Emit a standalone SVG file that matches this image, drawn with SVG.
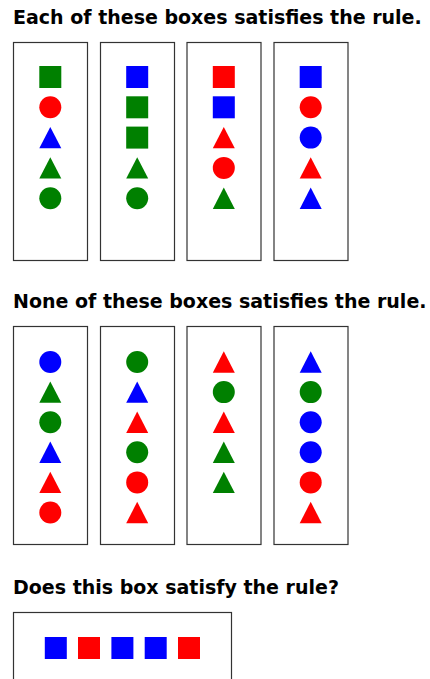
<svg xmlns="http://www.w3.org/2000/svg" xmlns:xlink="http://www.w3.org/1999/xlink" width="430" height="679" viewBox="0 0 430 679">
<style>
.t{font-family:"DejaVu Sans","Liberation Sans",sans-serif;font-weight:bold;font-size:19px;fill:#000}
.box{fill:#fff;stroke:#333;stroke-width:1.2}
.g{fill:#008000}.r{fill:#ff0000}.b{fill:#0000ff}
</style>
<defs>
<rect id="sq" x="-11" y="-11" width="22" height="22"/>
<circle id="ci" r="11"/>
<path id="tr" d="M0,-10.7 L11,10.7 L-11,10.7 Z"/>
</defs>
<rect width="430" height="679" fill="#fff"/>
<text class="t" x="13" y="24">Each of these boxes satisfies the rule.</text>
<text class="t" x="13" y="308">None of these boxes satisfies the rule.</text>
<text class="t" x="13" y="594">Does this box satisfy the rule?</text>

<g id="pos1">
<rect class="box" x="13.5" y="42.5" width="74" height="218"/>
<use href="#sq" class="g" x="50.3" y="77"/>
<use href="#ci" class="r" x="50.3" y="107.3"/>
<use href="#tr" class="b" x="50.3" y="137.6"/>
<use href="#tr" class="g" x="50.3" y="167.9"/>
<use href="#ci" class="g" x="50.3" y="198.2"/>
</g>
<g id="pos2">
<rect class="box" x="100.5" y="42.5" width="74" height="218"/>
<use href="#sq" class="b" x="137.2" y="77"/>
<use href="#sq" class="g" x="137.2" y="107.3"/>
<use href="#sq" class="g" x="137.2" y="137.6"/>
<use href="#tr" class="g" x="137.2" y="167.9"/>
<use href="#ci" class="g" x="137.2" y="198.2"/>
</g>
<g id="pos3">
<rect class="box" x="187" y="42.5" width="74" height="218"/>
<use href="#sq" class="r" x="223.8" y="77"/>
<use href="#sq" class="b" x="223.8" y="107.3"/>
<use href="#tr" class="r" x="223.8" y="137.6"/>
<use href="#ci" class="r" x="223.8" y="167.9"/>
<use href="#tr" class="g" x="223.8" y="198.2"/>
</g>
<g id="pos4">
<rect class="box" x="274" y="42.5" width="74" height="218"/>
<use href="#sq" class="b" x="310.7" y="77"/>
<use href="#ci" class="r" x="310.7" y="107.3"/>
<use href="#ci" class="b" x="310.7" y="137.6"/>
<use href="#tr" class="r" x="310.7" y="167.9"/>
<use href="#tr" class="b" x="310.7" y="198.2"/>
</g>

<g id="neg1">
<rect class="box" x="13.5" y="326.5" width="74" height="218"/>
<use href="#ci" class="b" x="50.3" y="362"/>
<use href="#tr" class="g" x="50.3" y="392.1"/>
<use href="#ci" class="g" x="50.3" y="422.2"/>
<use href="#tr" class="b" x="50.3" y="452.3"/>
<use href="#tr" class="r" x="50.3" y="482.4"/>
<use href="#ci" class="r" x="50.3" y="512.5"/>
</g>
<g id="neg2">
<rect class="box" x="100.5" y="326.5" width="74" height="218"/>
<use href="#ci" class="g" x="137.2" y="362"/>
<use href="#tr" class="b" x="137.2" y="392.1"/>
<use href="#tr" class="r" x="137.2" y="422.2"/>
<use href="#ci" class="g" x="137.2" y="452.3"/>
<use href="#ci" class="r" x="137.2" y="482.4"/>
<use href="#tr" class="r" x="137.2" y="512.5"/>
</g>
<g id="neg3">
<rect class="box" x="187" y="326.5" width="74" height="218"/>
<use href="#tr" class="r" x="223.8" y="362"/>
<use href="#ci" class="g" x="223.8" y="392.1"/>
<use href="#tr" class="r" x="223.8" y="422.2"/>
<use href="#tr" class="g" x="223.8" y="452.3"/>
<use href="#tr" class="g" x="223.8" y="482.4"/>
</g>
<g id="neg4">
<rect class="box" x="274" y="326.5" width="74" height="218"/>
<use href="#tr" class="b" x="310.7" y="362"/>
<use href="#ci" class="g" x="310.7" y="392.1"/>
<use href="#ci" class="b" x="310.7" y="422.2"/>
<use href="#ci" class="b" x="310.7" y="452.3"/>
<use href="#ci" class="r" x="310.7" y="482.4"/>
<use href="#tr" class="r" x="310.7" y="512.5"/>
</g>

<g id="query">
<rect class="box" x="13.5" y="612.5" width="218" height="74"/>
<use href="#sq" class="b" x="55.8" y="648"/>
<use href="#sq" class="r" x="89" y="648"/>
<use href="#sq" class="b" x="122.4" y="648"/>
<use href="#sq" class="b" x="155.7" y="648"/>
<use href="#sq" class="r" x="189" y="648"/>
</g>
</svg>
